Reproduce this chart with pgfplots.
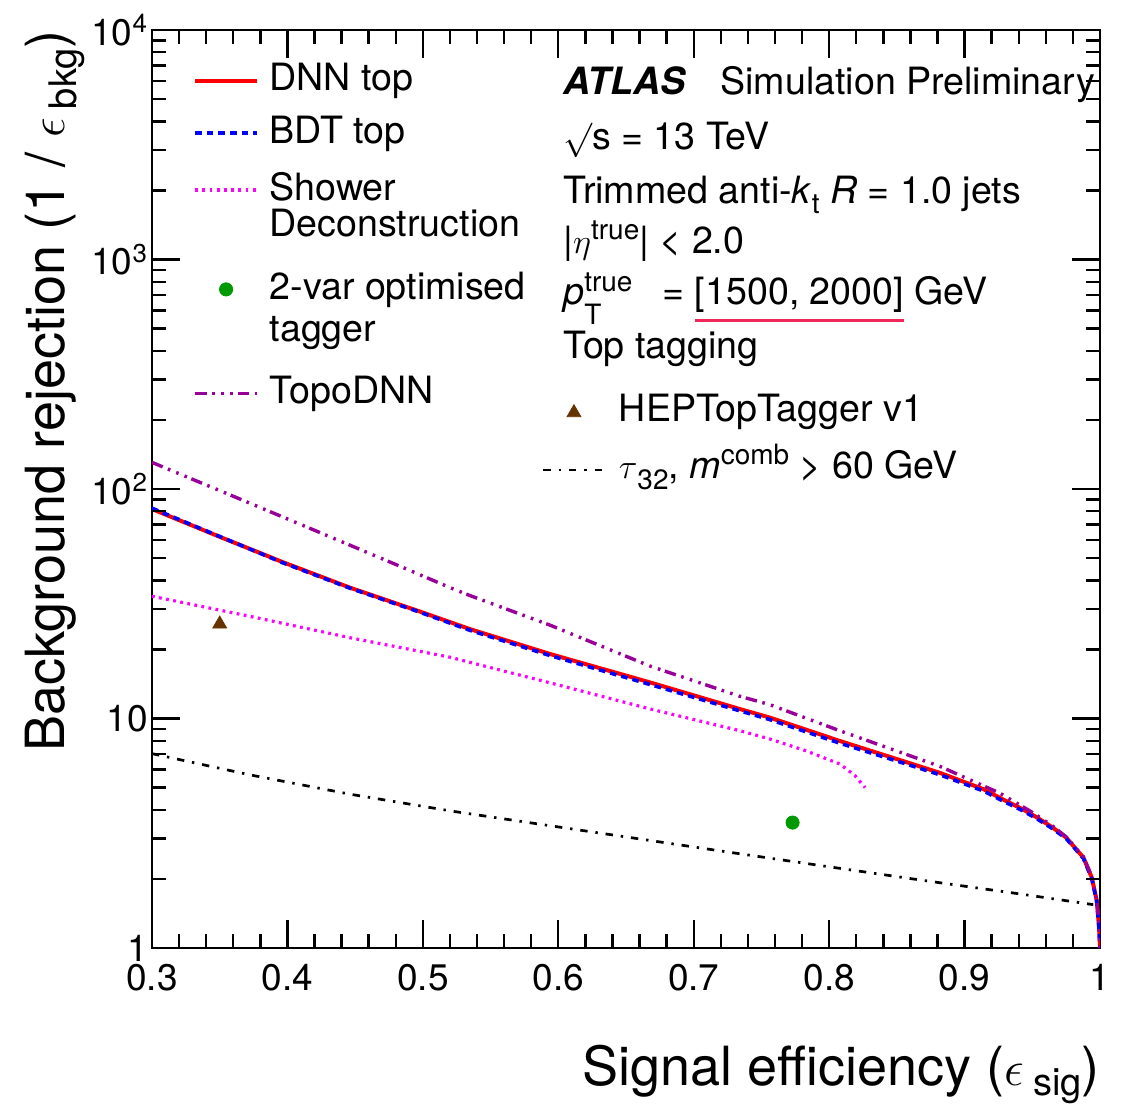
\documentclass[border=0pt]{standalone}
\usepackage{pgfplots}
\pgfplotsset{compat=1.18}
\usepackage{fontspec}
\setmainfont{TeX Gyre Heros}
\definecolor{topo}{RGB}{153,0,153}
\definecolor{hep}{RGB}{102,51,0}
\definecolor{twovar}{RGB}{0,153,0}
\definecolor{shower}{RGB}{255,0,255}
\definecolor{dnn}{RGB}{255,0,0}
\definecolor{bdt}{RGB}{0,0,255}
\definecolor{ulred}{RGB}{240,40,90}
\newcommand\txt{\fontsize{18.8pt}{22pt}\selectfont}
\newcommand\sm{\fontsize{14pt}{16pt}\selectfont}
\newcommand\ticklab{\fontsize{18.5pt}{22pt}\selectfont}
\newcommand\labf{\fontsize{27pt}{32pt}\selectfont}
\newcommand\labsub{\fontsize{19pt}{22pt}\selectfont}
\newcommand\redul[1]{\sbox0{#1}\rlap{\color{ulred}\rule[-8.6pt]{\wd0}{1.5pt}}#1}

\pgfplotsset{
  leftimg/.style={legend image code/.code={\draw[mark repeat=2,mark phase=2,##1] plot coordinates {(0pt,5pt)(15.4pt,5pt)(30.8pt,5pt)};}},
  leftmark/.style={legend image code/.code={\path (0pt,0pt) (30.8pt,0pt); \draw[##1] plot coordinates {(15.4pt,5pt)};}},
  rightimg/.style={legend image code/.code={\draw[mark repeat=2,mark phase=2,##1] plot coordinates {(0pt,4pt)(14.75pt,4pt)(29.5pt,4pt)};}},
  rightmark/.style={legend image code/.code={\path (0pt,0pt) (29.5pt,0pt); \draw[##1] plot coordinates {(15.3pt,4.5pt)};}},
}

\begin{document}
\begin{tikzpicture}
\begin{axis}[
  at={(0pt,0pt)}, anchor=south west,
  scale only axis, width=474pt, height=459pt,
  xmin=0.3, xmax=1, ymin=1, ymax=10000, ymode=log,
  xtick={0.3,0.4,0.5,0.6,0.7,0.8,0.9,1},
  xticklabels={0.3,0.4,0.5,0.6,0.7,0.8,0.9,1},
  minor x tick num=4,
  ytick={1,10,100,1000,10000},
  yticklabels={1,10,10\textsuperscript{2},10\textsuperscript{3},10\textsuperscript{4}},
  minor ytick={2,3,4,5,6,7,8,9,20,30,40,50,60,70,80,90,200,300,400,500,600,700,800,900,2000,3000,4000,5000,6000,7000,8000,9000},
  tick align=inside,
  major tick length=14pt, minor tick length=7pt,
  tick style={black, line width=1.2pt},
  every outer x axis line/.append style={line width=1.4pt},
  every outer y axis line/.append style={line width=1.4pt},
  tick label style={font=\ticklab},
  xticklabel style={yshift=-4.8pt},
  yticklabel style={xshift=1.5pt},
  legend style={at={(0.04357,0.96438)}, anchor=north west, draw=none, fill=none,
    inner sep=0pt, outer sep=0pt, row sep=0pt, column sep=5.4pt, font=\txt,
    cells={anchor=base west}, nodes={inner sep=0pt, text depth=}},
]
% DNN top
\addplot[dnn, line width=2pt, leftimg] coordinates {
(0.300,81.8) (0.348,62.6) (0.397,47.9) (0.446,37.2) (0.496,29.5) (0.535,24.5)
(0.594,19.1) (0.668,14.35) (0.734,11.0) (0.756,10.1) (0.808,7.98) (0.852,6.6)
(0.882,5.79) (0.914,4.92) (0.928,4.45) (0.942,4.05) (0.953,3.72) (0.965,3.35)
(0.975,3.03) (0.9877,2.48) (0.9939,2.03) (0.9976,1.61) (0.9993,1.23) (1.0,1.0)};
\addlegendentry{DNN top\rule[-12.3pt]{0pt}{26.3pt}}
% BDT top
\addplot[bdt, line width=1.8pt, dash pattern=on 3.3pt off 2.5pt, leftimg] coordinates {
(0.300,82.5) (0.348,62.8) (0.397,47.6) (0.446,37.0) (0.496,29.3) (0.535,24.2)
(0.594,18.8) (0.668,14.05) (0.734,10.8) (0.756,9.9) (0.808,7.8) (0.852,6.47)
(0.882,5.68) (0.914,4.83) (0.928,4.38) (0.942,3.99) (0.953,3.67) (0.965,3.31)
(0.975,3.0) (0.9877,2.46) (0.9939,2.01) (0.9976,1.59) (0.9993,1.21) (1.0,1.0)};
\addlegendentry{BDT top\rule[-14.35pt]{0pt}{28.35pt}}
% Shower Deconstruction
\addplot[shower, line width=1.6pt, dash pattern=on 1.4pt off 2.2pt, leftimg] coordinates {
(0.300,34.1) (0.372,27.9) (0.446,22.5) (0.520,18.5) (0.594,14.3) (0.668,11.0)
(0.734,8.85) (0.756,8.15) (0.783,7.23) (0.808,6.33) (0.819,5.65) (0.8265,5.0)};
\addlegendentry{\vtop{\baselineskip=18.35pt\hbox{\rule{0pt}{14pt}Shower}\hbox{Deconstruction\rule[-17.3pt]{0pt}{17.3pt}}}}
% 2-var optimised tagger
\addplot[only marks, mark=*, mark size=3.3pt, color=twovar, leftmark] coordinates {(0.773,3.52)};
\addlegendentry{\vtop{\baselineskip=21.2pt\hbox{\rule{0pt}{14pt}2-var optimised}\hbox{tagger\rule[-16.8pt]{0pt}{16.8pt}}}}
% TopoDNN
\addplot[topo, line width=1.7pt, dash pattern=on 5.8pt off 2.8pt on 1.3pt off 3.2pt on 1.3pt off 3.2pt on 1.3pt off 2.4pt, leftimg] coordinates {
(0.300,130.6) (0.360,93.0) (0.4216,65.5) (0.483,46.1) (0.520,37.2) (0.535,34.3)
(0.594,25.5) (0.668,16.9) (0.734,12.5) (0.756,11.5) (0.808,8.84) (0.882,6.18)
(0.926,4.73) (0.950,3.9) (0.965,3.4) (0.975,3.05) (0.9877,2.5) (0.9939,2.05)
(0.9976,1.62) (0.9993,1.25) (1.0,1.0)};
\addlegendentry{TopoDNN\rule[-5pt]{0pt}{19pt}}
\end{axis}

\begin{axis}[
  at={(0pt,0pt)}, anchor=south west,
  scale only axis, width=474pt, height=459pt,
  xmin=0.3, xmax=1, ymin=1, ymax=10000, ymode=log,
  hide axis,
  legend style={at={(0.41139,0.60381)}, anchor=north west, draw=none, fill=none,
    inner sep=0pt, outer sep=0pt, row sep=0pt, column sep=7.6pt, font=\txt,
    cells={anchor=base west}, nodes={inner sep=0pt, text depth=}},
]
\addplot[only marks, mark=triangle*, mark size=4pt, color=hep, rightmark] coordinates {(0.35,25.8)};
\addlegendentry{HEPTopTagger v1\rule[-11pt]{0pt}{25pt}}
\addplot[black, line width=1.35pt, dash pattern=on 3.7pt off 3.95pt on 1.2pt off 3.95pt, rightimg] coordinates {
(0.300,7.03) (0.3724,5.68) (0.4462,4.68) (0.520,3.96) (0.594,3.41) (0.653,3.03)
(0.7194,2.65) (0.793,2.29) (0.867,1.98) (0.941,1.72) (0.995,1.545)};
\addlegendentry{$\tau$\raisebox{-5.5pt}{\sm 32}, \textit{m}\raisebox{7pt}{\sm comb} > 60 GeV\rule[-5pt]{0pt}{19pt}}
\end{axis}

% tick marks on all four sides (axis box: 474pt x 459pt at the origin)
\begin{scope}[black, line width=1.2pt]
\foreach \i in {1,...,6} {
  \draw (\i*67.7143pt,0pt) -- ++(0pt,14pt);
  \draw (\i*67.7143pt,459pt) -- ++(0pt,-14pt);
}
\foreach \i in {1,...,34} {
  \pgfmathtruncatemacro\r{mod(\i,5)}
  \ifnum\r=0\relax\else
    \draw (\i*13.54286pt,0pt) -- ++(0pt,7pt);
    \draw (\i*13.54286pt,459pt) -- ++(0pt,-7pt);
  \fi
}
\foreach \k in {0,...,3} {
  \ifnum\k>0\relax
    \draw (0pt,\k*114.75pt) -- ++(14pt,0pt);
    \draw (474pt,\k*114.75pt) -- ++(-14pt,0pt);
  \fi
  \foreach \m in {2,...,9} {
    \draw (0pt,{(\k+log10(\m))*114.75pt}) -- ++(7pt,0pt);
    \draw (474pt,{(\k+log10(\m))*114.75pt}) -- ++(-7pt,0pt);
  }
}
\end{scope}

% axis titles
\node[anchor=base east, font=\labf, inner sep=0pt] at (474pt,-68.5pt)
  {Signal efficiency ($\epsilon$\,\raisebox{-5pt}{\labsub sig})};
\node[rotate=90, anchor=base east, font=\labf, inner sep=0pt] at (-43.5pt,459pt)
  {Background rejection (1 / $\epsilon$\,\raisebox{-6pt}{\labsub bkg})};

% ATLAS labels
\begin{scope}[every node/.style={anchor=base west, font=\txt, inner sep=0pt}]
\node at (205.5pt,426.5pt) {\textbf{\textit{ATLAS}}};
\node at (284pt,426.5pt) {Simulation Preliminary};
\node at (205.5pt,399.35pt) {$\surd$s = 13 TeV};
\node at (205.5pt,372.35pt) {Trimmed anti-\textit{k}\raisebox{-5pt}{\sm t} \textit{R} = 1.0 jets};
\node at (205.5pt,347pt) {|$\eta$\raisebox{7pt}{\sm true}| < 2.0};
\node at (205.5pt,321.5pt) {\textit{p}\rlap{\raisebox{-10pt}{\sm T}}\raisebox{6.7pt}{\sm true}\hspace{15pt}= \redul{[1500, 2000]} GeV};
\node at (205.5pt,294.85pt) {Top tagging};
\end{scope}
\pgfresetboundingbox
\path[use as bounding box] (-76pt,-78pt) rectangle (485.5pt,474pt);
\end{tikzpicture}
\end{document}
